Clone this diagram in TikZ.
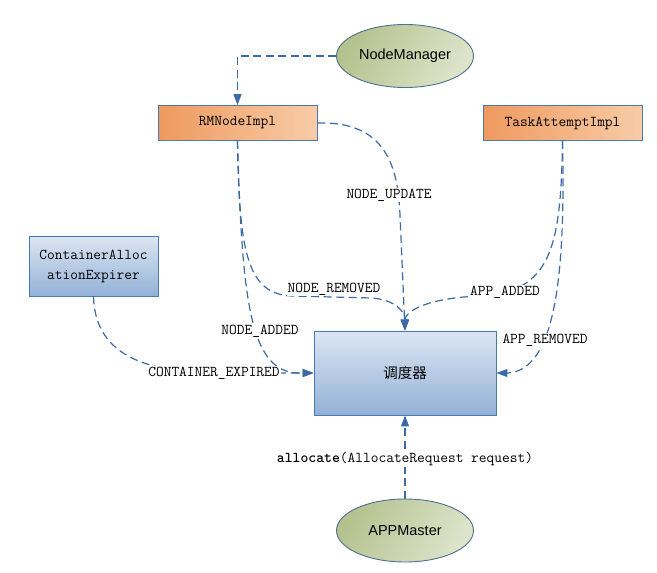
\documentclass[tikz,border=0pt]{standalone}
\usepackage{fontspec}
\setmainfont{Liberation Sans}
\newfontfamily\cjk{Noto Sans CJK SC}
\usetikzlibrary{arrows.meta,shapes.geometric}
\definecolor{lineblue}{HTML}{3C6AA8}
\definecolor{orgL}{HTML}{EE9A5E}
\definecolor{orgR}{HTML}{F8CCA8}
\definecolor{bluT}{HTML}{DCE6F2}
\definecolor{bluB}{HTML}{93B1D6}
\definecolor{bordblue}{HTML}{4A78B0}
\definecolor{grnL}{HTML}{B4C28E}
\definecolor{grnR}{HTML}{DDE4CB}
\definecolor{grnbord}{HTML}{4F7090}
\tikzset{
  orangebox/.style={draw=bordblue, line width=0.9pt, left color=orgL, right color=orgR,
    minimum width=159pt, minimum height=35pt, inner sep=0pt,
    font=\ttfamily\fontsize{15}{17}\selectfont},
  bluebox/.style={draw=bordblue, line width=0.9pt, top color=bluT, bottom color=bluB,
    inner sep=0pt, align=center},
  greenell/.style={ellipse, draw=grnbord, line width=0.9pt, shading=axis, left color=grnL, right color=grnR,
    shading angle=60, minimum width=137pt, minimum height=63pt, inner sep=0pt,
    font=\fontsize{14.5}{16}\selectfont},
  conn/.style={draw=lineblue, line width=1.2pt, dash pattern=on 8pt off 4.5pt},
  arr/.style={conn, -{Triangle[length=11pt,width=8pt]}},
  lbl/.style={fill=white, inner sep=1pt, font=\ttfamily\fontsize{15}{17}\selectfont}
}
\begin{document}
\begin{tikzpicture}[x=1pt,y=-1pt]
\useasboundingbox (0,0) rectangle (657,573);
\node[greenell] (nm) at (405,56) {NodeManager};
\node[orangebox] (rm) at (237.5,123) {RMNodeImpl};
\node[orangebox] (ta) at (562.5,123) {TaskAttemptImpl};
\node[bluebox, minimum width=129pt, minimum height=60pt,
  font=\ttfamily\fontsize{15}{20}\selectfont] (cae) at (93.5,266) {ContainerAlloc\\ationExpirer};
\node[bluebox, minimum width=182pt, minimum height=84pt,
  font=\cjk\fontsize{14.5}{16}\selectfont] (sch) at (405,373) {调度器};
\node[greenell] (am) at (405,530.5) {APPMaster};

% NodeManager -> RMNodeImpl
\draw[arr] (nm.west) -| (rm.north);
% NODE_UPDATE
\draw[arr] (rm.east) .. controls (385,121) and (398,165) .. (400,215) -- (sch.north);
\node[lbl] (lu) at (389,195) {NODE\_UPDATE};
% NODE_REMOVED
\draw[arr] (rm.south) .. controls (239,255) and (248,294) .. (292,296) -- (372,298) .. controls (396,300) and (405,312) .. (sch.north);
\node[lbl] (lr) at (334,289) {NODE\_REMOVED};
% APP_ADDED
\draw[arr] (ta.south) .. controls (561,250) and (550,292) .. (480,296) .. controls (425,298) and (405,312) .. (sch.north);
\node[lbl] (la) at (505,292) {APP\_ADDED};
% APP_REMOVED
\draw[arr] (ta.south) .. controls (566,290) and (552,370) .. (508,373) -- (sch.east);
\node[lbl] (lar) at (545,340) {APP\_REMOVED};
% NODE_ADDED
\draw[arr] (rm.south) .. controls (242,300) and (250,368) .. (295,373) -- (sch.west);
\node[lbl] (lna) at (260,331) {NODE\_ADDED};
% CONTAINER_EXPIRED
\draw[arr] (cae.south) .. controls (95,352) and (140,370) .. (205,373) -- (sch.west);
\node[lbl] (lce) at (214,373) {CONTAINER\_EXPIRED};
% allocate
\draw[arr] (am.north) -- (sch.south);
\node[lbl] (lal) at (405,459) {\textbf{allocate}(AllocateRequest request)};
\end{tikzpicture}
\end{document}
